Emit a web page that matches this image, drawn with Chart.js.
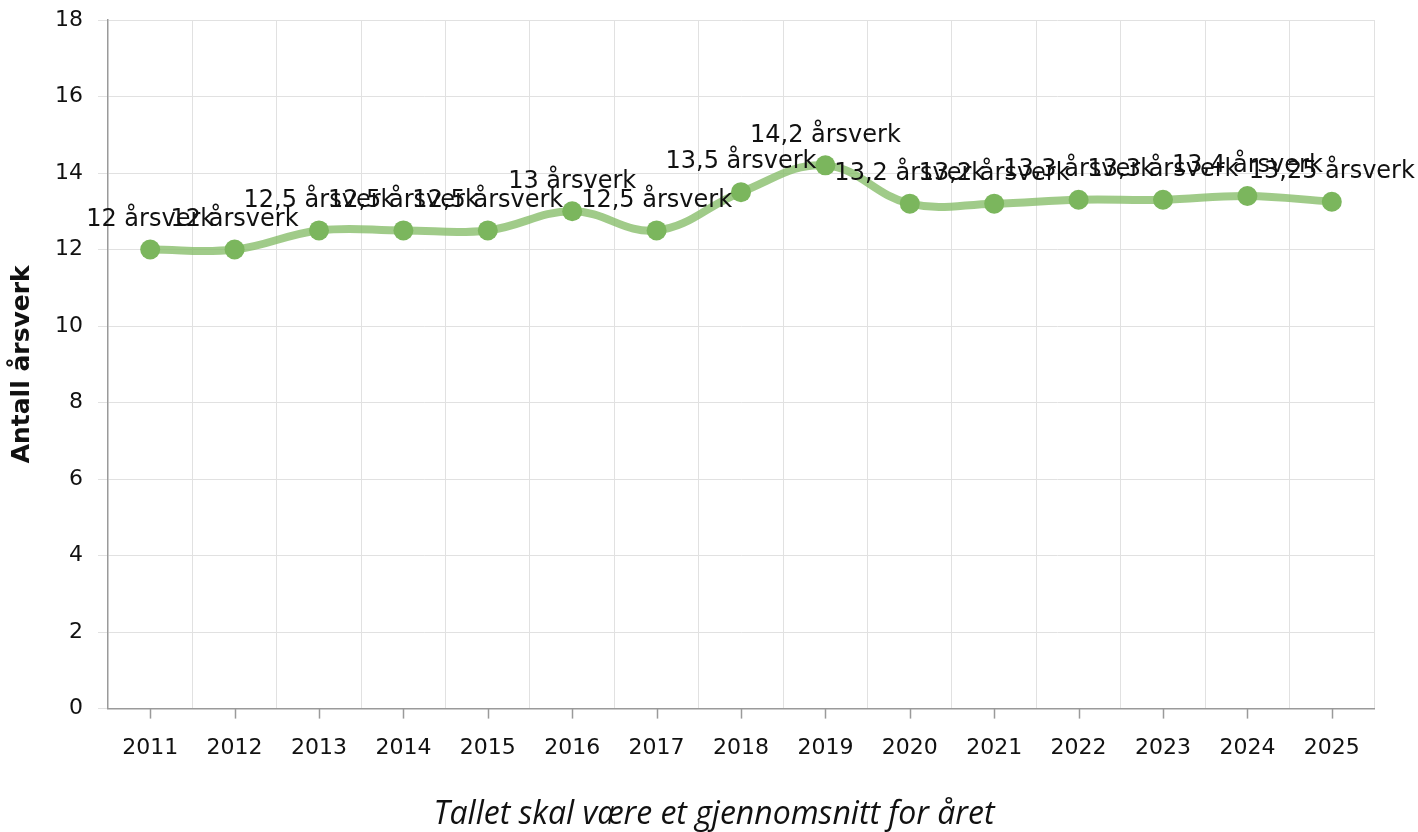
<!DOCTYPE html>
<html>
<head>
<meta charset="utf-8">
<script src="https://cdn.jsdelivr.net/npm/chart.js@4.4.0/dist/chart.umd.min.js"></script>
<style>
  html, body { margin: 0; padding: 0; background: #fff; }
</style>
</head>
<body>
<canvas id="chart" width="1418" height="832"></canvas>
<script>
// years and average number of FTEs (årsverk)
const years = ["2011", "2012", "2013", "2014", "2015", "2016", "2017", "2018", "2019", "2020", "2021", "2022", "2023", "2024", "2025"];
const arsverk = [12, 12, 12.5, 12.5, 12.5, 13, 12.5, 13.5, 14.2, 13.2, 13.2, 13.3, 13.3, 13.4, 13.25];
const yTicks = [0, 2, 4, 6, 8, 10, 12, 14, 16, 18];
const xTitle = 'Tallet skal være et gjennomsnitt for året';

const fmt = v => String(v).replace('.', ',') + ' årsverk';

// value labels above each point
const valueLabels = {
  id: 'valueLabels',
  afterDatasetsDraw(chart) {
    const ctx = chart.ctx;
    const meta = chart.getDatasetMeta(0);
    ctx.save();
    ctx.font = '24px "DejaVu Sans"';
    ctx.fillStyle = '#111';
    ctx.textAlign = 'center';
    ctx.textBaseline = 'middle';
    meta.data.forEach((pt, i) => {
      ctx.fillText(fmt(arsverk[i]), pt.x, pt.y - 30);
    });
    ctx.restore();
  }
};

// tick marks at category centres (grid lines sit on the boundaries) + x title centred on the page
const centreTicks = {
  id: 'centreTicks',
  afterDraw(chart) {
    const x = chart.scales.x;
    const ctx = chart.ctx;
    ctx.save();
    ctx.strokeStyle = '#9a9a9a';
    ctx.lineWidth = 1.5;
    x.ticks.forEach((t, i) => {
      const px = Math.round(x.getPixelForTick(i)) + 0.5;
      ctx.beginPath();
      ctx.moveTo(px, x.top);
      ctx.lineTo(px, x.top + 10);
      ctx.stroke();
    });
    ctx.font = 'italic 32px "Open Sans"';
    ctx.fillStyle = '#111';
    ctx.textAlign = 'center';
    ctx.textBaseline = 'middle';
    ctx.fillText(xTitle, chart.width / 2 + 5, chart.height - 17);
    ctx.restore();
  }
};

new Chart(document.getElementById('chart'), {
  type: 'line',
  data: {
    labels: years,
    datasets: [{
      data: arsverk,
      borderColor: 'rgba(128, 186, 98, 0.75)',
      borderWidth: 8,
      tension: 0.4,
      pointRadius: 10,
      pointHoverRadius: 10,
      pointBackgroundColor: '#7bb65d',
      pointBorderWidth: 0,
    }],
  },
  options: {
    responsive: false,
    animation: false,
    layout: { padding: { left: 0, right: 44, top: 0, bottom: 55 } },
    plugins: { legend: { display: false }, tooltip: { enabled: false } },
    scales: {
      x: {
        offset: true,
        grid: { offset: true, color: '#e1e1e1', tickLength: 10, tickColor: 'rgba(0,0,0,0)' },
        border: { color: '#9a9a9a', width: 1.5 },
        ticks: { color: '#111', font: { family: 'DejaVu Sans', size: 22 }, padding: 16, maxRotation: 0 },
      },
      y: {
        min: 0,
        max: 18,
        afterBuildTicks: s => { s.ticks = yTicks.map(v => ({ value: v })); },
        afterFit: s => { s.paddingTop = 20; },
        grid: { color: '#e1e1e1', tickLength: 10 },
        border: { color: '#9a9a9a', width: 1.5 },
        ticks: { color: '#111', font: { family: 'DejaVu Sans', size: 22 }, padding: 15 },
        title: {
          display: true,
          text: 'Antall årsverk',
          color: '#111',
          font: { family: 'DejaVu Sans', size: 25, weight: 'bold' },
          padding: { top: 7, bottom: 3 },
        },
      },
    },
  },
  plugins: [valueLabels, centreTicks],
});
</script>
</body>
</html>
